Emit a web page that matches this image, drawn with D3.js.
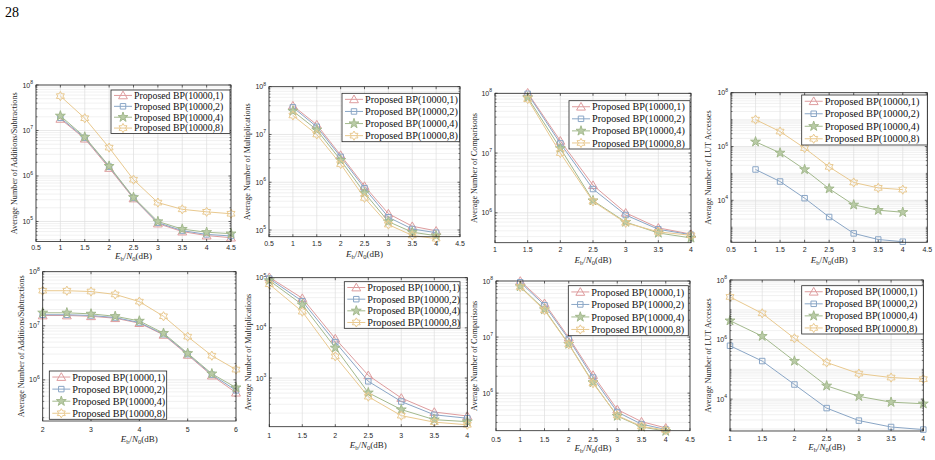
<!DOCTYPE html>
<html>
<head>
<meta charset="utf-8">
<script src="https://cdn.jsdelivr.net/npm/d3@7"></script>
<style>
  body { margin: 0; background: #fff; }
  svg { display: block; }
</style>
</head>
<body>
<div id="chart"></div>
<script>
// legend entries / series names
const seriesNames = ["Proposed BP(10000,1)", "Proposed BP(10000,2)", "Proposed BP(10000,4)", "Proposed BP(10000,8)"];
const seriesColors = ["#de9c9e", "#8aa6c6", "#a3b98d", "#e9c98f"];

// x values (Eb/N0 in dB)
const ebnoA = [1, 1.5, 2, 2.5, 3, 3.5, 4, 4.5];
const ebnoB = [1, 1.5, 2, 2.5, 3, 3.5, 4];
const ebnoC = [1.5, 2, 2.5, 3, 3.5, 4];
const ebnoD = [2, 2.5, 3, 3.5, 4, 4.5, 5, 5.5, 6];

// top row
const addTop = [
  [1.8e7, 6.6e6, 1.5e6, 3.2e5, 9.0e4, 6.0e4, 4.9e4, 4.4e4],
  [1.9e7, 6.9e6, 1.6e6, 3.3e5, 9.4e4, 6.3e4, 5.2e4, 4.8e4],
  [2.1e7, 7.2e6, 1.65e6, 3.4e5, 1.0e5, 6.8e4, 5.8e4, 5.4e4],
  [5.7e7, 1.86e7, 4.2e6, 8.3e5, 2.6e5, 1.85e5, 1.63e5, 1.48e5]
];
const mulTop = [
  [4.0e7, 1.6e7, 3.7e6, 8.3e5, 2.2e5, 1.2e5, 9.6e4],
  [3.7e7, 1.45e7, 3.4e6, 7.5e5, 1.85e5, 1.05e5, 8.8e4],
  [3.1e7, 1.25e7, 2.9e6, 6.0e5, 1.5e5, 9.0e4, 7.6e4],
  [2.5e7, 1.0e7, 2.4e6, 4.7e5, 1.3e5, 7.7e4, 6.6e4]
];
const cmpTop = [
  [1.02e8, 1.6e7, 2.9e6, 1.0e6, 5.6e5, 4.4e5],
  [9.8e7, 1.45e7, 2.5e6, 9.2e5, 5.3e5, 4.3e5],
  [8.5e7, 1.2e7, 1.6e6, 7.0e5, 4.6e5, 3.8e5],
  [8.0e7, 1.0e7, 1.55e6, 6.8e5, 4.8e5, 4.2e5]
];
const lutTop = [
  [null, null, null, null, null, null, null],
  [1.4e5, 5.0e4, 1.2e4, 2.4e3, 5.9e2, 3.5e2, 2.9e2],
  [1.5e6, 5.8e5, 1.4e5, 2.7e4, 6.8e3, 4.3e3, 3.6e3],
  [1.0e7, 3.6e6, 8.7e5, 1.75e5, 4.6e4, 2.9e4, 2.5e4]
];

// bottom row
const addBot = [
  [1.55e7, 1.55e7, 1.5e7, 1.38e7, 1.12e7, 6.8e6, 2.9e6, 1.2e6, 5.8e5],
  [1.6e7, 1.6e7, 1.55e7, 1.42e7, 1.15e7, 7.0e6, 3.0e6, 1.25e6, 6.4e5],
  [1.74e7, 1.74e7, 1.66e7, 1.5e7, 1.23e7, 7.3e6, 3.1e6, 1.3e6, 7.2e5],
  [4.45e7, 4.45e7, 4.3e7, 3.8e7, 2.8e7, 1.5e7, 6.3e6, 2.8e6, 1.55e6]
];
const mulBot = [
  [1.02e5, 3.9e4, 6.1e3, 1130, 400, 210, 175],
  [9.6e4, 3.4e4, 5.2e3, 860, 340, 185, 158],
  [8.8e4, 2.9e4, 4.0e3, 510, 235, 148, 135],
  [7.4e4, 2.1e4, 2.7e3, 425, 178, 132, 117]
];
const cmpBot = [
  [1.0e8, 4.0e7, 9.8e6, 2.1e6, 5.1e5, 3.1e5, 2.4e5],
  [9.5e7, 3.7e7, 9.2e6, 1.9e6, 4.6e5, 2.8e5, 2.25e5],
  [8.0e7, 3.1e7, 7.5e6, 1.55e6, 3.9e5, 2.5e5, 2.1e5],
  [7.8e7, 3.0e7, 7.4e6, 1.5e6, 4.0e5, 2.55e5, 2.2e5]
];
const lutBot = [
  [null, null, null, null, null, null, null],
  [6.2e5, 1.9e5, 3.1e4, 5.0e3, 1.9e3, 1.16e3, 950],
  [4.3e6, 1.3e6, 1.9e5, 2.8e4, 1.24e4, 7.9e3, 7.0e3],
  [2.7e7, 7.6e6, 1.1e6, 1.7e5, 7.2e4, 5.3e4, 4.7e4]
];

// tick values
const xTicksHalf = [0.5, 1, 1.5, 2, 2.5, 3, 3.5, 4, 4.5];
const xTicksOneFour = [1, 1.5, 2, 2.5, 3, 3.5, 4];
const xTicksTwoSix = [2, 3, 4, 5, 6];
const yTicksEvery = [1e2, 1e3, 1e4, 1e5, 1e6, 1e7, 1e8];
const yTicksEven = [1e2, 1e4, 1e6, 1e8];

const svg = d3.select("#chart").append("svg")
  .attr("width", 935)
  .attr("height", 460);

const serif = "'Liberation Serif', 'Times New Roman', serif";
const sans = "'Liberation Sans', Arial, sans-serif";

// page number
svg.append("text")
  .attr("x", 5)
  .attr("y", 17)
  .style("font-family", serif)
  .style("font-size", "14px")
  .text("28");

const panels = [
  { box: [36, 85, 231, 241.5], xd: [0.5, 4.5], xt: xTicksHalf, yd: [Math.pow(10, 4.56), 1e8], yt: yTicksEvery,
    xs: ebnoA, ys: addTop, ylab: "Average Number of Additions/Subtractions", ylx: 14, xly: 259, xtly: 250,
    leg: [111, 90, 119, 43.5], lfs: 9.8 },
  { box: [269, 86.7, 460, 236.7], xd: [0.5, 4.5], xt: xTicksHalf, yd: [Math.pow(10, 4.86), 1e8], yt: yTicksEvery,
    xs: ebnoB, ys: mulTop, ylab: "Average Number of Multiplications", ylx: 247, xly: 257, xtly: 246,
    leg: [342, 93.3, 117.5, 48.4], lfs: 10.2 },
  { box: [495, 93.3, 691, 242.7], xd: [1, 4], xt: xTicksOneFour, yd: [Math.pow(10, 5.5), 1e8], yt: yTicksEvery,
    xs: ebnoC, ys: cmpTop, ylab: "Average Number of Comparisons", ylx: 474, xly: 263, xtly: 252,
    leg: [569, 100.7, 121, 48.3], lfs: 10.2 },
  { box: [731, 92.7, 927.3, 242.3], xd: [0.5, 4.5], xt: xTicksHalf, yd: [Math.pow(10, 2.44), 1e8], yt: yTicksEven,
    xs: ebnoB, ys: lutTop, ylab: "Average Number of LUT Accesses", ylx: 708, xly: 263, xtly: 252,
    leg: [801.7, 95, 125.6, 50], lfs: 10.4 },
  { box: [42.7, 271.7, 236, 421], xd: [2, 6], xt: xTicksTwoSix, yd: [Math.pow(10, 5.24), 1e8], yt: yTicksEvery,
    xs: ebnoD, ys: addBot, ylab: "Average Number of Additions/Subtractions", ylx: 21, xly: 442, xtly: 432,
    leg: [49.3, 371, 117.4, 48.3], lfs: 10.2 },
  { box: [269.3, 277.7, 467.3, 426.7], xd: [1, 4], xt: xTicksOneFour, yd: [Math.pow(10, 2.03), 1e5], yt: yTicksEvery,
    xs: ebnoB, ys: mulBot, ylab: "Average Number of Multiplications", ylx: 248, xly: 448, xtly: 437.5,
    leg: [344.3, 281.7, 115.7, 46.6], lfs: 10.2 },
  { box: [496, 281, 690, 430.7], xd: [0.5, 4.5], xt: xTicksHalf, yd: [Math.pow(10, 5.33), 1e8], yt: yTicksEvery,
    xs: ebnoB, ys: cmpBot, ylab: "Average Number of Comparisons", ylx: 474, xly: 451, xtly: 441.5,
    leg: [568.3, 285.7, 120, 50], lfs: 10.2 },
  { box: [730, 280, 923.3, 431], xd: [1, 4], xt: xTicksOneFour, yd: [Math.pow(10, 2.93), 1e8], yt: yTicksEven,
    xs: ebnoB, ys: lutBot, ylab: "Average Number of LUT Accesses", ylx: 708, xly: 450, xtly: 441,
    leg: [801.7, 285.7, 121.6, 48.3], lfs: 10.2 }
];

// marker shapes
function hexagramPath(r) {
  const pts = [];
  for (let i = 0; i < 12; i++) {
    const a = -Math.PI / 2 + i * Math.PI / 6;
    const rr = i % 2 === 0 ? r : r / Math.sqrt(3);
    pts.push([rr * Math.cos(a), rr * Math.sin(a)]);
  }
  return "M" + pts.map(p => p.join(",")).join("L") + "Z";
}
function pentagramPath(r) {
  const pts = [];
  for (let i = 0; i < 10; i++) {
    const a = -Math.PI / 2 + i * Math.PI / 5;
    const rr = i % 2 === 0 ? r : r * 0.38;
    pts.push([rr * Math.cos(a), rr * Math.sin(a)]);
  }
  return "M" + pts.map(p => p.join(",")).join("L") + "Z";
}
const markerPaths = [
  d3.symbol().type(d3.symbolTriangle).size(34)(),
  d3.symbol().type(d3.symbolSquare).size(30)(),
  pentagramPath(5.2),
  hexagramPath(4.6)
];
const markerFill = ["none", "none", "#b9cba6", "none"];

function drawMarker(g, i, cx, cy) {
  g.append("path")
    .attr("d", markerPaths[i])
    .attr("transform", `translate(${cx},${cy})` + (i === 0 ? " translate(0,0.8)" : ""))
    .attr("fill", markerFill[i])
    .attr("stroke", seriesColors[i])
    .attr("stroke-width", 1);
}

function drawPanel(p) {
  const [x0, y0, x1, y1] = p.box;
  const g = svg.append("g");

  const x = d3.scaleLinear().domain(p.xd).range([x0, x1]);
  const y = d3.scaleLog().domain(p.yd).range([y1, y0]);

  g.append("rect")
    .attr("x", x0).attr("y", y0)
    .attr("width", x1 - x0).attr("height", y1 - y0)
    .attr("fill", "#fff");

  // minor y values (2..9 x 10^k and unlabeled decades)
  const kmin = Math.floor(Math.log10(p.yd[0]));
  const kmax = Math.ceil(Math.log10(p.yd[1]));
  const minorVals = [];
  for (let k = kmin; k <= kmax; k++) {
    for (let m = 1; m <= 9; m++) {
      const v = m * Math.pow(10, k);
      if (v < p.yd[0] * 0.999 || v > p.yd[1] * 1.001) continue;
      if (m === 1 && p.yt.includes(v)) continue;
      minorVals.push(v);
    }
  }
  const majorY = p.yt.filter(v => v >= p.yd[0] * 0.999 && v <= p.yd[1] * 1.001);

  g.selectAll(".minor-grid").data(minorVals).enter().append("line")
    .attr("x1", x0).attr("x2", x1)
    .attr("y1", d => y(d)).attr("y2", d => y(d))
    .attr("stroke", "#e8e8e8").attr("stroke-width", 0.6);

  g.selectAll(".xgrid").data(p.xt).enter().append("line")
    .attr("x1", d => x(d)).attr("x2", d => x(d))
    .attr("y1", y0).attr("y2", y1)
    .attr("stroke", "#dedede").attr("stroke-width", 0.7);

  g.selectAll(".ygrid").data(majorY).enter().append("line")
    .attr("x1", x0).attr("x2", x1)
    .attr("y1", d => y(d)).attr("y2", d => y(d))
    .attr("stroke", "#dedede").attr("stroke-width", 0.7);

  // series
  const line = d3.line()
    .defined(d => d[1] != null)
    .x(d => x(d[0]))
    .y(d => y(d[1]));

  p.ys.forEach((vals, i) => {
    const pts = p.xs.map((xv, j) => [xv, vals[j]]);
    g.append("path")
      .datum(pts)
      .attr("fill", "none")
      .attr("stroke", seriesColors[i])
      .attr("stroke-width", 1)
      .attr("d", line);
    pts.filter(d => d[1] != null).forEach(d => drawMarker(g, i, x(d[0]), y(d[1])));
  });

  // box
  g.append("rect")
    .attr("x", x0).attr("y", y0)
    .attr("width", x1 - x0).attr("height", y1 - y0)
    .attr("fill", "none")
    .attr("stroke", "#262626")
    .attr("stroke-width", 0.8);

  // ticks, inward, mirrored
  p.xt.forEach(v => {
    g.append("line").attr("x1", x(v)).attr("x2", x(v)).attr("y1", y1).attr("y2", y1 - 2.5)
      .attr("stroke", "#262626").attr("stroke-width", 0.7);
    g.append("line").attr("x1", x(v)).attr("x2", x(v)).attr("y1", y0).attr("y2", y0 + 2.5)
      .attr("stroke", "#262626").attr("stroke-width", 0.7);
    g.append("text")
      .attr("x", x(v)).attr("y", p.xtly)
      .attr("text-anchor", "middle")
      .style("font-family", sans)
      .style("font-size", "7px")
      .style("fill", "#262626")
      .text(String(v));
  });
  minorVals.forEach(v => {
    g.append("line").attr("x1", x0).attr("x2", x0 + 1.5).attr("y1", y(v)).attr("y2", y(v))
      .attr("stroke", "#262626").attr("stroke-width", 0.6);
    g.append("line").attr("x1", x1).attr("x2", x1 - 1.5).attr("y1", y(v)).attr("y2", y(v))
      .attr("stroke", "#262626").attr("stroke-width", 0.6);
  });
  majorY.forEach(v => {
    g.append("line").attr("x1", x0).attr("x2", x0 + 2.5).attr("y1", y(v)).attr("y2", y(v))
      .attr("stroke", "#262626").attr("stroke-width", 0.7);
    g.append("line").attr("x1", x1).attr("x2", x1 - 2.5).attr("y1", y(v)).attr("y2", y(v))
      .attr("stroke", "#262626").attr("stroke-width", 0.7);
    const t = g.append("text")
      .attr("x", x0 - 3).attr("y", y(v) + 2.5)
      .attr("text-anchor", "end")
      .style("font-family", sans)
      .style("font-size", "7px")
      .style("fill", "#262626");
    t.append("tspan").text("10");
    t.append("tspan").attr("dy", -3.5).style("font-size", "5px").text(Math.round(Math.log10(v)));
  });

  // y label
  g.append("text")
    .attr("transform", `translate(${p.ylx},${(y0 + y1) / 2}) rotate(-90)`)
    .attr("text-anchor", "middle")
    .attr("dy", "0.35em")
    .style("font-family", serif)
    .style("font-size", "8.2px")
    .style("fill", "#262626")
    .text(p.ylab);

  // x label  E_b/N_0(dB)
  const xl = g.append("text")
    .attr("x", (x0 + x1) / 2).attr("y", p.xly)
    .attr("text-anchor", "middle")
    .style("font-family", serif)
    .style("font-size", "9px")
    .style("fill", "#262626");
  xl.append("tspan").style("font-style", "italic").text("E");
  xl.append("tspan").attr("dy", 2).style("font-size", "6.5px").text("b");
  xl.append("tspan").attr("dy", -2).text("/");
  xl.append("tspan").style("font-style", "italic").text("N");
  xl.append("tspan").attr("dy", 2).style("font-size", "6.5px").text("0");
  xl.append("tspan").attr("dy", -2).text("(dB)");

  // legend
  const [lx, ly, lw, lh] = p.leg;
  const lg = g.append("g");
  lg.append("rect")
    .attr("x", lx).attr("y", ly).attr("width", lw).attr("height", lh)
    .attr("fill", "#fff").attr("stroke", "#262626").attr("stroke-width", 0.8);
  const rowH = lh / 4;
  seriesNames.forEach((name, i) => {
    const cy = ly + rowH * (i + 0.5);
    lg.append("line")
      .attr("x1", lx + 3).attr("x2", lx + 21)
      .attr("y1", cy).attr("y2", cy)
      .attr("stroke", seriesColors[i]).attr("stroke-width", 1);
    drawMarker(lg, i, lx + 12, cy);
    lg.append("text")
      .attr("x", lx + 23).attr("y", cy)
      .attr("dy", "0.35em")
      .style("font-family", serif)
      .style("font-size", p.lfs + "px")
      .style("fill", "#111")
      .text(name);
  });
}

panels.forEach(drawPanel);
</script>
</body>
</html>
